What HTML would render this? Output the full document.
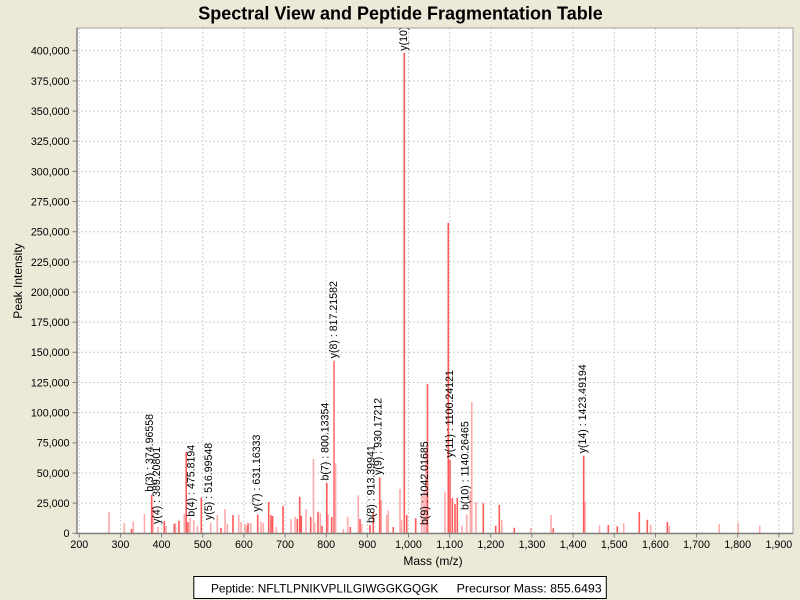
<!DOCTYPE html>
<html>
<head>
<meta charset="utf-8">
<style>
html,body{margin:0;padding:0;background:#ece9d8;}
svg{display:block;}
text{font-family:"Liberation Sans",Arial,sans-serif;}
</style>
</head>
<body>
<svg width="800" height="600" viewBox="0 0 800 600" xmlns="http://www.w3.org/2000/svg">
<rect x="0" y="0" width="800" height="600" fill="#ece9d8"/>
<defs>
<clipPath id="plot"><rect x="77" y="28" width="716" height="505.3"/></clipPath>
</defs>
<!-- Title -->
<text x="400.5" y="19.5" text-anchor="middle" font-size="18" font-weight="bold" fill="#000">Spectral View and Peptide Fragmentation Table</text>

<!-- plot background -->
<rect x="77" y="28" width="716" height="505.3" fill="#ffffff"/>

<!-- gridlines -->
<g stroke="#d0d0d0" stroke-width="1" stroke-dasharray="2,2" fill="none">
<line x1="79.3" y1="28" x2="79.3" y2="533"/>
<line x1="120.45" y1="28" x2="120.45" y2="533"/>
<line x1="161.6" y1="28" x2="161.6" y2="533"/>
<line x1="202.75" y1="28" x2="202.75" y2="533"/>
<line x1="243.9" y1="28" x2="243.9" y2="533"/>
<line x1="285.05" y1="28" x2="285.05" y2="533"/>
<line x1="326.2" y1="28" x2="326.2" y2="533"/>
<line x1="367.35" y1="28" x2="367.35" y2="533"/>
<line x1="408.5" y1="28" x2="408.5" y2="533"/>
<line x1="449.65" y1="28" x2="449.65" y2="533"/>
<line x1="490.8" y1="28" x2="490.8" y2="533"/>
<line x1="531.95" y1="28" x2="531.95" y2="533"/>
<line x1="573.1" y1="28" x2="573.1" y2="533"/>
<line x1="614.25" y1="28" x2="614.25" y2="533"/>
<line x1="655.4" y1="28" x2="655.4" y2="533"/>
<line x1="696.55" y1="28" x2="696.55" y2="533"/>
<line x1="737.7" y1="28" x2="737.7" y2="533"/>
<line x1="778.85" y1="28" x2="778.85" y2="533"/>
<line x1="77" y1="503.1" x2="793" y2="503.1"/>
<line x1="77" y1="473.0" x2="793" y2="473.0"/>
<line x1="77" y1="442.8" x2="793" y2="442.8"/>
<line x1="77" y1="412.7" x2="793" y2="412.7"/>
<line x1="77" y1="382.5" x2="793" y2="382.5"/>
<line x1="77" y1="352.3" x2="793" y2="352.3"/>
<line x1="77" y1="322.2" x2="793" y2="322.2"/>
<line x1="77" y1="292.0" x2="793" y2="292.0"/>
<line x1="77" y1="261.9" x2="793" y2="261.9"/>
<line x1="77" y1="231.7" x2="793" y2="231.7"/>
<line x1="77" y1="201.5" x2="793" y2="201.5"/>
<line x1="77" y1="171.4" x2="793" y2="171.4"/>
<line x1="77" y1="141.2" x2="793" y2="141.2"/>
<line x1="77" y1="111.1" x2="793" y2="111.1"/>
<line x1="77" y1="80.9" x2="793" y2="80.9"/>
<line x1="77" y1="50.7" x2="793" y2="50.7"/>
</g>

<!-- peaks -->
<g clip-path="url(#plot)" stroke-width="1.6" fill="none">
<g stroke="#ffaaaa">
<line x1="109" y1="533" x2="109" y2="512"/>
<line x1="124.3" y1="533" x2="124.3" y2="523"/>
<line x1="133.3" y1="533" x2="133.3" y2="521.5"/>
<line x1="144.5" y1="533" x2="144.5" y2="514"/>
<line x1="153" y1="533" x2="153" y2="507"/>
<line x1="158" y1="533" x2="158" y2="527"/>
<line x1="166" y1="533" x2="166" y2="526"/>
<line x1="175.5" y1="533" x2="175.5" y2="523"/>
<line x1="184.3" y1="533" x2="184.3" y2="514"/>
<line x1="190" y1="533" x2="190" y2="518"/>
<line x1="193.7" y1="533" x2="193.7" y2="520"/>
<line x1="197.5" y1="533" x2="197.5" y2="526"/>
<line x1="210.7" y1="533" x2="210.7" y2="522.7"/>
<line x1="217.3" y1="533" x2="217.3" y2="515"/>
<line x1="225" y1="533" x2="225" y2="509"/>
<line x1="227.3" y1="533" x2="227.3" y2="524"/>
<line x1="238.7" y1="533" x2="238.7" y2="514.7"/>
<line x1="241" y1="533" x2="241" y2="522"/>
<line x1="245" y1="533" x2="245" y2="524"/>
<line x1="246.5" y1="533" x2="246.5" y2="525.7"/>
<line x1="250.7" y1="533" x2="250.7" y2="523"/>
<line x1="261" y1="533" x2="261" y2="521.7"/>
<line x1="263.3" y1="533" x2="263.3" y2="522.7"/>
<line x1="276.3" y1="533" x2="276.3" y2="527"/>
<line x1="291" y1="533" x2="291" y2="519"/>
<line x1="295" y1="533" x2="295" y2="516.7"/>
<line x1="306" y1="533" x2="306" y2="509"/>
<line x1="313.5" y1="533" x2="313.5" y2="459"/>
<line x1="314.7" y1="533" x2="314.7" y2="523"/>
<line x1="320.3" y1="533" x2="320.3" y2="513.3"/>
<line x1="328" y1="533" x2="328" y2="514"/>
<line x1="335.6" y1="533" x2="335.6" y2="463.3"/>
<line x1="343.3" y1="533" x2="343.3" y2="529"/>
<line x1="347.7" y1="533" x2="347.7" y2="516.7"/>
<line x1="358.3" y1="533" x2="358.3" y2="495.3"/>
<line x1="361.7" y1="533" x2="361.7" y2="524"/>
<line x1="381.2" y1="533" x2="381.2" y2="500"/>
<line x1="386.7" y1="533" x2="386.7" y2="515"/>
<line x1="388.3" y1="533" x2="388.3" y2="510.7"/>
<line x1="400" y1="533" x2="400" y2="489"/>
<line x1="401.5" y1="533" x2="401.5" y2="520"/>
<line x1="421.7" y1="533" x2="421.7" y2="496.7"/>
<line x1="424" y1="533" x2="424" y2="490"/>
<line x1="426" y1="533" x2="426" y2="449"/>
<line x1="445" y1="533" x2="445" y2="491.7"/>
<line x1="462" y1="533" x2="462" y2="525.7"/>
<line x1="466.7" y1="533" x2="466.7" y2="514.3"/>
<line x1="470.4" y1="533" x2="470.4" y2="491"/>
<line x1="471.8" y1="533" x2="471.8" y2="402"/>
<line x1="476" y1="533" x2="476" y2="502"/>
<line x1="501.7" y1="533" x2="501.7" y2="520"/>
<line x1="530.7" y1="533" x2="530.7" y2="528"/>
<line x1="551" y1="533" x2="551" y2="515"/>
<line x1="585" y1="533" x2="585" y2="501.7"/>
<line x1="599.5" y1="533" x2="599.5" y2="525.5"/>
<line x1="623.7" y1="533" x2="623.7" y2="523.3"/>
<line x1="650.7" y1="533" x2="650.7" y2="524.7"/>
<line x1="669.3" y1="533" x2="669.3" y2="525.7"/>
<line x1="719.3" y1="533" x2="719.3" y2="524"/>
<line x1="738.3" y1="533" x2="738.3" y2="522.7"/>
<line x1="759.7" y1="533" x2="759.7" y2="525.7"/>
</g>
<g stroke="#ff5a5a">
<line x1="131.5" y1="533" x2="131.5" y2="529"/>
<line x1="151.7" y1="533" x2="151.7" y2="495"/>
<line x1="164.3" y1="533" x2="164.3" y2="521"/>
<line x1="174.3" y1="533" x2="174.3" y2="524"/>
<line x1="179" y1="533" x2="179" y2="521"/>
<line x1="186.2" y1="533" x2="186.2" y2="451.7"/>
<line x1="187.9" y1="533" x2="187.9" y2="522"/>
<line x1="201.3" y1="533" x2="201.3" y2="497.5"/>
<line x1="221" y1="533" x2="221" y2="528"/>
<line x1="233" y1="533" x2="233" y2="515"/>
<line x1="248" y1="533" x2="248" y2="523.3"/>
<line x1="257.7" y1="533" x2="257.7" y2="514.5"/>
<line x1="268.7" y1="533" x2="268.7" y2="502"/>
<line x1="271" y1="533" x2="271" y2="515.3"/>
<line x1="272.6" y1="533" x2="272.6" y2="516"/>
<line x1="283" y1="533" x2="283" y2="506"/>
<line x1="297.3" y1="533" x2="297.3" y2="519"/>
<line x1="299.7" y1="533" x2="299.7" y2="496.7"/>
<line x1="301.3" y1="533" x2="301.3" y2="515.7"/>
<line x1="310.7" y1="533" x2="310.7" y2="517"/>
<line x1="318" y1="533" x2="318" y2="511.7"/>
<line x1="322" y1="533" x2="322" y2="526"/>
<line x1="326.8" y1="533" x2="326.8" y2="482.7"/>
<line x1="331.7" y1="533" x2="331.7" y2="517"/>
<line x1="350.3" y1="533" x2="350.3" y2="527"/>
<line x1="360" y1="533" x2="360" y2="519"/>
<line x1="370" y1="533" x2="370" y2="525"/>
<line x1="373.3" y1="533" x2="373.3" y2="512.7"/>
<line x1="379.7" y1="533" x2="379.7" y2="477.3"/>
<line x1="393.3" y1="533" x2="393.3" y2="527"/>
<line x1="406.7" y1="533" x2="406.7" y2="515"/>
<line x1="415.7" y1="533" x2="415.7" y2="518.3"/>
<line x1="427.5" y1="533" x2="427.5" y2="384"/>
<line x1="450" y1="533" x2="450" y2="460"/>
<line x1="452.3" y1="533" x2="452.3" y2="498"/>
<line x1="455" y1="533" x2="455" y2="504"/>
<line x1="457.3" y1="533" x2="457.3" y2="498"/>
<line x1="483.3" y1="533" x2="483.3" y2="503.3"/>
<line x1="495.7" y1="533" x2="495.7" y2="525.7"/>
<line x1="499.3" y1="533" x2="499.3" y2="505"/>
<line x1="514.3" y1="533" x2="514.3" y2="527.7"/>
<line x1="553.3" y1="533" x2="553.3" y2="528.3"/>
<line x1="583.7" y1="533" x2="583.7" y2="455.7"/>
<line x1="608.3" y1="533" x2="608.3" y2="525"/>
<line x1="617.3" y1="533" x2="617.3" y2="526.3"/>
<line x1="639.3" y1="533" x2="639.3" y2="512"/>
<line x1="647.3" y1="533" x2="647.3" y2="519.7"/>
<line x1="667.3" y1="533" x2="667.3" y2="522"/>
<line x1="448.3" y1="533" x2="448.3" y2="222.7"/>
<line x1="404.3" y1="533" x2="404.3" y2="52.7"/>
</g>
<line x1="334" y1="533" x2="334" y2="360.7" stroke="#ff7070"/>
</g>

<!-- annotations -->
<g clip-path="url(#plot)" font-size="10.6" fill="#000">
<text transform="translate(407.1,50.7) rotate(-90)">y(10)</text>
<text transform="translate(337.1,358.3) rotate(-90)">y(8) : 817.21582</text>
<text transform="translate(586.1,453.3) rotate(-90)">y(14) : 1423.49194</text>
<text transform="translate(453.1,457.5) rotate(-90)">y(11) : 1100.24121</text>
<text transform="translate(468.3,510) rotate(-90)">b(10) : 1140.26465</text>
<text transform="translate(427.8,525) rotate(-90)">b(9) : 1042.01685</text>
<text transform="translate(374.3,523) rotate(-90)">b(8) : 913.39941</text>
<text transform="translate(381.3,475) rotate(-90)">y(9) : 930.17212</text>
<text transform="translate(328.3,480.5) rotate(-90)">b(7) : 800.13354</text>
<text transform="translate(260.1,511.7) rotate(-90)">y(7) : 631.16333</text>
<text transform="translate(211.8,520) rotate(-90)">y(5) : 516.99548</text>
<text transform="translate(194.3,516.7) rotate(-90)">b(4) : 475.8194</text>
<text transform="translate(160.1,524) rotate(-90)">y(4) : 389.20801</text>
<text transform="translate(152.8,491.7) rotate(-90)">b(3) : 374.96558</text>
</g>

<!-- plot outline and axes -->
<rect x="77" y="28" width="716" height="505.3" fill="none" stroke="#a0a0a0" stroke-width="1"/>
<line x1="77" y1="28" x2="77" y2="534" stroke="#808080" stroke-width="1.5"/>
<line x1="76" y1="533.5" x2="793" y2="533.5" stroke="#808080" stroke-width="1.5"/>

<!-- y ticks -->
<g stroke="#808080" stroke-width="1">
<line x1="72.5" y1="533.3" x2="77" y2="533.3"/>
<line x1="72.5" y1="503.1" x2="77" y2="503.1"/>
<line x1="72.5" y1="473.0" x2="77" y2="473.0"/>
<line x1="72.5" y1="442.8" x2="77" y2="442.8"/>
<line x1="72.5" y1="412.7" x2="77" y2="412.7"/>
<line x1="72.5" y1="382.5" x2="77" y2="382.5"/>
<line x1="72.5" y1="352.3" x2="77" y2="352.3"/>
<line x1="72.5" y1="322.2" x2="77" y2="322.2"/>
<line x1="72.5" y1="292.0" x2="77" y2="292.0"/>
<line x1="72.5" y1="261.9" x2="77" y2="261.9"/>
<line x1="72.5" y1="231.7" x2="77" y2="231.7"/>
<line x1="72.5" y1="201.5" x2="77" y2="201.5"/>
<line x1="72.5" y1="171.4" x2="77" y2="171.4"/>
<line x1="72.5" y1="141.2" x2="77" y2="141.2"/>
<line x1="72.5" y1="111.1" x2="77" y2="111.1"/>
<line x1="72.5" y1="80.9" x2="77" y2="80.9"/>
<line x1="72.5" y1="50.7" x2="77" y2="50.7"/>
</g>
<g font-size="10.7" fill="#000" text-anchor="end">
<text x="69.5" y="537.2">0</text>
<text x="69.5" y="507.0">25,000</text>
<text x="69.5" y="476.9">50,000</text>
<text x="69.5" y="446.7">75,000</text>
<text x="69.5" y="416.6">100,000</text>
<text x="69.5" y="386.4">125,000</text>
<text x="69.5" y="356.2">150,000</text>
<text x="69.5" y="326.1">175,000</text>
<text x="69.5" y="295.9">200,000</text>
<text x="69.5" y="265.8">225,000</text>
<text x="69.5" y="235.6">250,000</text>
<text x="69.5" y="205.4">275,000</text>
<text x="69.5" y="175.3">300,000</text>
<text x="69.5" y="145.1">325,000</text>
<text x="69.5" y="115.0">350,000</text>
<text x="69.5" y="84.8">375,000</text>
<text x="69.5" y="54.6">400,000</text>
</g>

<!-- x ticks -->
<g stroke="#808080" stroke-width="1">
<line x1="79.3" y1="533" x2="79.3" y2="537.5"/>
<line x1="120.45" y1="533" x2="120.45" y2="537.5"/>
<line x1="161.6" y1="533" x2="161.6" y2="537.5"/>
<line x1="202.75" y1="533" x2="202.75" y2="537.5"/>
<line x1="243.9" y1="533" x2="243.9" y2="537.5"/>
<line x1="285.05" y1="533" x2="285.05" y2="537.5"/>
<line x1="326.2" y1="533" x2="326.2" y2="537.5"/>
<line x1="367.35" y1="533" x2="367.35" y2="537.5"/>
<line x1="408.5" y1="533" x2="408.5" y2="537.5"/>
<line x1="449.65" y1="533" x2="449.65" y2="537.5"/>
<line x1="490.8" y1="533" x2="490.8" y2="537.5"/>
<line x1="531.95" y1="533" x2="531.95" y2="537.5"/>
<line x1="573.1" y1="533" x2="573.1" y2="537.5"/>
<line x1="614.25" y1="533" x2="614.25" y2="537.5"/>
<line x1="655.4" y1="533" x2="655.4" y2="537.5"/>
<line x1="696.55" y1="533" x2="696.55" y2="537.5"/>
<line x1="737.7" y1="533" x2="737.7" y2="537.5"/>
<line x1="778.85" y1="533" x2="778.85" y2="537.5"/>
</g>
<g font-size="10.7" fill="#000" text-anchor="middle">
<text x="79.3" y="547.8">200</text>
<text x="120.45" y="547.8">300</text>
<text x="161.6" y="547.8">400</text>
<text x="202.75" y="547.8">500</text>
<text x="243.9" y="547.8">600</text>
<text x="285.05" y="547.8">700</text>
<text x="326.2" y="547.8">800</text>
<text x="367.35" y="547.8">900</text>
<text x="408.5" y="547.8">1,000</text>
<text x="449.65" y="547.8">1,100</text>
<text x="490.8" y="547.8">1,200</text>
<text x="531.95" y="547.8">1,300</text>
<text x="573.1" y="547.8">1,400</text>
<text x="614.25" y="547.8">1,500</text>
<text x="655.4" y="547.8">1,600</text>
<text x="696.55" y="547.8">1,700</text>
<text x="737.7" y="547.8">1,800</text>
<text x="778.85" y="547.8">1,900</text>
</g>

<!-- axis labels -->
<text x="433" y="565" font-size="12" text-anchor="middle" fill="#000">Mass (m/z)</text>
<text transform="translate(21.9,281) rotate(-90)" font-size="12" text-anchor="middle" fill="#000">Peak Intensity</text>

<!-- legend -->
<rect x="193.8" y="576.5" width="412.5" height="22" fill="#ffffff" stroke="#000" stroke-width="1"/>
<text x="211" y="592.3" font-size="12" fill="#000" textLength="227.3" lengthAdjust="spacingAndGlyphs">Peptide: NFLTLPNIKVPLILGIWGGKGQGK</text>
<text x="456.7" y="592.3" font-size="12" fill="#000" textLength="145" lengthAdjust="spacingAndGlyphs">Precursor Mass: 855.6493</text>
</svg>
</body>
</html>
